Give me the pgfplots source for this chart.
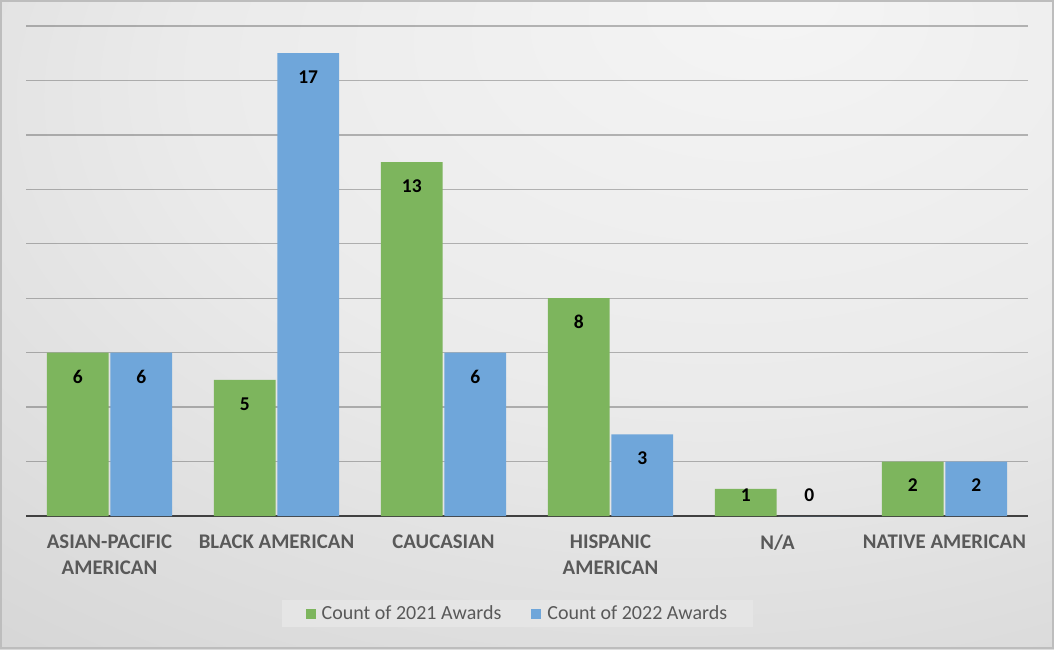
\documentclass[border=0pt]{standalone}
\usepackage{pgfplots}
\pgfplotsset{compat=1.18}
\usepackage{fontspec}
\setmainfont{Carlito}

\definecolor{grn}{HTML}{7DB55D}
\definecolor{blu}{HTML}{6FA6DA}
\definecolor{lbl}{HTML}{595959}
\definecolor{base}{HTML}{404040}

\pgfdeclareradialshading{bgshade}{\pgfpoint{12bp}{26bp}}{%
  color(0bp)=(white!96!black);
  color(25bp)=(white!92!black);
  color(55bp)=(white!82!black);
  color(95bp)=(white!76!black)}

\begin{document}
\begin{tikzpicture}
\useasboundingbox (0pt,0pt) rectangle (1054pt,649pt);
\shade[shading=bgshade] (0pt,0pt) rectangle (1054pt,649pt);
\draw[white!74!black, line width=2pt] (1pt,1pt) rectangle (1053pt,648pt);

\begin{axis}[
    at={(26pt,133pt)}, anchor=south west,
    scale only axis,
    width=1002pt, height=490pt,
    ybar, bar width=0.37,
    xmin=-0.5, xmax=5.5,
    ymin=0, ymax=18,
    xtick={0,...,5},
    xticklabels={{ASIAN-PACIFIC\\AMERICAN},{BLACK AMERICAN},{CAUCASIAN},{HISPANIC\\AMERICAN},{N/A},{NATIVE AMERICAN}},
    xticklabel style={font=\fontsize{20.8}{25.5}\selectfont\bfseries, text=lbl,
        align=center, inner sep=0pt, yshift=-19pt},
    ytick={2,4,...,18}, yticklabels={},
    major tick length=0pt,
    ymajorgrids,
    major grid style={draw=black, draw opacity=0.26, line width=1.4pt},
    axis x line*=bottom,
    axis y line*=left,
    x axis line style={draw=base, line width=2.6pt, -},
    y axis line style={draw=none},
    /pgf/number format/assume math mode=true,
    nodes near coords,
    visualization depends on={rawy \as \ry},
    every node near coord/.append style={font=\fontsize{19.5}{22}\selectfont\bfseries,
        text=black, anchor=center,
        yshift={ifthenelse(\ry<1.65,(0.77-\ry)*27.22,-24)}},
    legend columns=2,
    legend style={at={(0.4905,-0.199)}, anchor=center, draw=none,
        fill=white!90!black, text=lbl,
        font=\fontsize{20}{24}\selectfont,
        inner xsep=24pt, inner ysep=4pt,
        /tikz/every even column/.append style={column sep=28pt}},
    legend image code/.code={\fill[#1] (0pt,-5pt) rectangle (10pt,5pt);},
]
\addplot[fill=grn, draw=none, bar shift=-0.19] coordinates {(0,6) (1,5) (2,13) (3,8) (4,1) (5,2)};
\addlegendentry{\hspace{4pt}Count of 2021 Awards}
\addplot[fill=blu, draw=none, bar shift=0.19] coordinates {(0,6) (1,17) (2,6) (3,3) (4,0) (5,2)};
\addlegendentry{\hspace{4pt}Count of 2022 Awards}
\end{axis}
\end{tikzpicture}
\end{document}
